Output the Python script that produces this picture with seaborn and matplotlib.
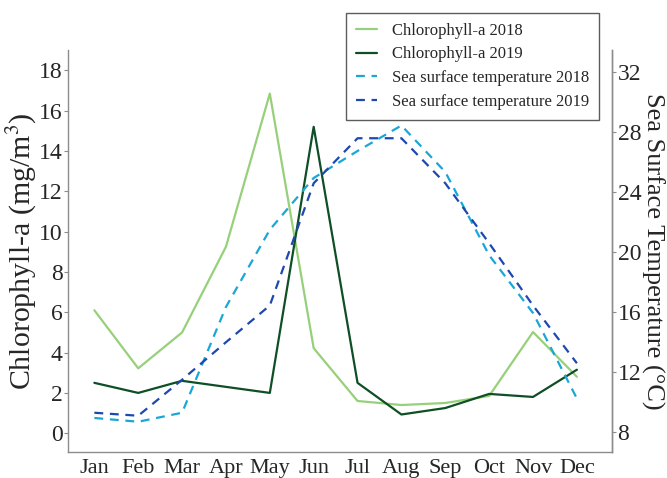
import matplotlib
matplotlib.use("Agg")
import matplotlib.pyplot as plt
import seaborn as sns
import pandas as pd

months = ["Jan", "Feb", "Mar", "Apr", "May", "Jun", "Jul", "Aug", "Sep", "Oct", "Nov", "Dec"]
chl_2018 = [6.1, 3.22, 5.0, 9.25, 16.85, 4.22, 1.6, 1.4, 1.5, 1.85, 5.02, 2.8]
chl_2019 = [2.5, 2.0, 2.6, 2.3, 2.0, 15.2, 2.5, 0.93, 1.25, 1.95, 1.8, 3.15]
sst_2018 = [8.95, 8.7, 9.3, 16.35, 21.5, 24.95, 26.75, 28.45, 25.35, 19.8, 15.95, 10.25]
sst_2019 = [9.3, 9.1, 11.5, 14.0, 16.45, 24.6, 27.6, 27.6, 24.6, 20.6, 16.45, 12.6]

sns.set_style("white")
plt.rcParams["font.family"] = ["Liberation Serif", "DejaVu Serif"]
plt.rcParams["mathtext.fontset"] = "stix"

fig = plt.figure(figsize=(6.67, 4.78), dpi=100)
ax = fig.add_axes([0.102, 0.054, 0.8155, 0.841])
ax2 = ax.twinx()

x = list(range(len(months)))
df_chl = pd.DataFrame({"x": x * 2,
                       "v": chl_2018 + chl_2019,
                       "s": ["Chlorophyll-a 2018"] * 12 + ["Chlorophyll-a 2019"] * 12})
df_sst = pd.DataFrame({"x": x * 2,
                       "v": sst_2018 + sst_2019,
                       "s": ["Sea surface temperature 2018"] * 12 + ["Sea surface temperature 2019"] * 12})

sns.lineplot(data=df_chl, x="x", y="v", hue="s",
             palette=["#97D07A", "#0E4F25"], linewidth=1.6, ax=ax, legend=False)
sns.lineplot(data=df_sst, x="x", y="v", hue="s",
             palette=["#1AA7D6", "#1F48AE"], linewidth=1.6, ax=ax2, legend=False)
for ln in ax2.get_lines():
    ln.set_linestyle((0, (4, 3)))

ax.set_xlim(-0.6, 11.8)
ax.set_ylim(-0.94, 19.0)
ax2.set_ylim(6.67, 33.47)
ax.set_xticks(x)
ax.set_xticklabels(months)
ax.set_yticks(range(0, 19, 2))
ax2.set_yticks(range(8, 33, 4))
ax.set_xlabel("")
ax.set_ylabel("Chlorophyll-a (mg/m$^3$)", fontsize=21.5)
ax.yaxis.set_label_coords(-0.053, 0.5)
ax2.set_ylabel("Sea Surface Temperature (°C)", fontsize=19, rotation=270)
ax2.yaxis.label.set_va("bottom")
ax2.yaxis.set_label_coords(1.054, 0.5)

grey = "#8c8c8c"
for a in (ax, ax2):
    a.spines["top"].set_visible(False)
    for s in ("left", "right", "bottom"):
        a.spines[s].set_color(grey)
        a.spines[s].set_linewidth(1.0)
    a.tick_params(axis="both", which="both", direction="out", length=3, width=0.8,
                  color=grey, labelsize=17, pad=1)
ax.tick_params(axis="x", labelsize=16, pad=2)
ax2.spines["left"].set_visible(False)
ax2.spines["bottom"].set_visible(False)

handles = ax.get_lines() + ax2.get_lines()
labels = ["Chlorophyll-a 2018", "Chlorophyll-a 2019",
          "Sea surface temperature 2018", "Sea surface temperature 2019"]
leg = fig.legend(handles, labels, loc="upper left", bbox_to_anchor=(346 / 667, 1 - 13 / 478),
                 fontsize=12, frameon=True, fancybox=False, handlelength=1.25,
                 borderpad=0.6, labelspacing=0.45, handletextpad=0.9, borderaxespad=0)
leg.get_frame().set_edgecolor("#333333")
leg.get_frame().set_linewidth(1.0)

fig.savefig("out.png", dpi=100)
